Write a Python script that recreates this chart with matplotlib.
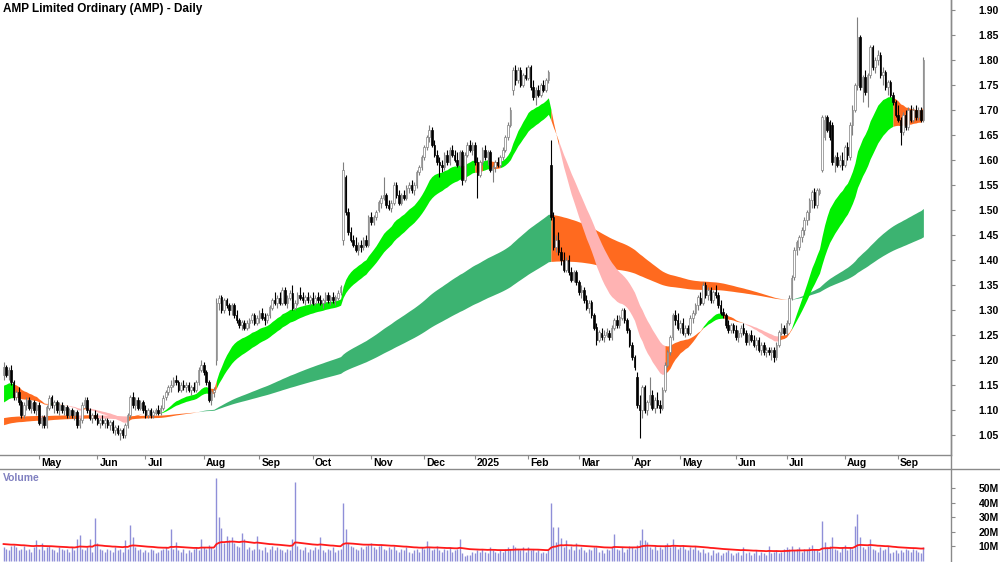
import numpy as np
import pandas as pd
import matplotlib
matplotlib.use('Agg')
import matplotlib.pyplot as plt
from matplotlib.lines import Line2D
import matplotlib.transforms as mtransforms

plt.rcParams['font.family'] = ['Liberation Sans', 'DejaVu Sans']

title = "AMP Limited Ordinary (AMP) - Daily"
start_date = '2024-04-10'
end_date = '2025-09-15'
holidays = ['2024-04-25', '2024-06-10', '2024-12-25', '2024-12-26', '2025-01-01',
            '2025-01-27', '2025-04-18', '2025-04-21', '2025-04-25', '2025-06-09']

# prices in cents, one entry per trading day
opens = [
    117.0,118.5,117.0,118.0,115.5,112.5,113.5,111.5,109.0,111.0,112.0,110.5,111.5,110.0,
    111.0,107.5,108.5,107.0,110.5,112.5,111.0,111.5,110.0,111.0,110.0,110.5,109.0,110.0,109.0,109.5,107.0,108.0,111.0,112.0,110.0,108.5,109.0,
    108.5,107.5,108.0,107.5,108.0,107.0,107.5,106.0,106.5,105.5,106.0,105.0,107.0,109.0,112.5,111.0,112.0,110.5,111.5,
    110.0,109.0,110.0,109.0,109.5,110.0,109.5,110.5,112.5,113.5,114.5,115.0,116.0,115.5,114.0,115.0,114.5,115.0,114.0,114.5,114.0,115.5,118.0,
    119.0,117.5,115.5,112.0,113.5,120.0,131.5,132.5,130.0,132.0,131.0,130.0,131.0,129.0,128.0,127.0,127.5,126.5,127.5,128.0,129.0,127.5,
    128.5,129.5,128.5,128.0,129.0,130.5,132.0,131.5,132.5,131.5,134.0,131.5,132.5,133.5,130.5,131.5,133.0,132.5,132.0,132.5,132.0,
    132.5,131.5,132.5,132.0,131.5,132.0,133.0,132.0,132.5,132.0,132.5,133.5,144.0,156.5,149.5,145.5,144.0,143.0,142.0,143.0,142.5,144.0,143.0,
    148.5,147.5,148.5,150.0,151.5,152.5,153.0,151.0,150.5,151.5,155.0,153.0,151.5,153.0,152.5,154.5,155.0,154.0,155.0,157.5,158.5,
    160.5,162.5,164.5,166.0,163.0,161.0,159.5,159.0,158.5,161.0,159.5,162.0,161.0,160.0,159.0,161.5,156.0,161.0,163.0,162.0,
    163.0,159.5,157.0,159.5,162.0,160.5,161.5,158.0,158.5,159.5,159.0,160.5,162.0,164.5,167.0,174.0,178.0,176.0,178.0,175.0,177.0,
    176.5,178.5,174.5,172.5,174.0,173.0,175.0,174.0,176.0,159.0,148.5,142.5,144.0,141.5,140.0,138.0,140.0,137.5,136.0,137.5,
    135.5,133.5,134.0,132.0,130.5,131.5,129.0,126.5,124.0,125.5,124.5,125.0,125.5,124.5,126.5,128.0,127.0,128.5,130.0,128.0,126.0,
    123.0,120.5,116.5,111.0,110.0,114.5,110.0,111.5,113.0,110.5,112.0,111.0,110.5,114.0,119.0,121.5,124.5,129.0,128.0,
    126.5,127.5,125.5,126.5,125.5,128.5,129.5,131.0,132.5,131.5,135.0,133.0,134.0,132.0,133.5,133.0,131.0,129.5,129.0,127.0,126.0,127.0,
    126.0,124.5,125.5,126.5,125.5,123.5,125.0,124.0,123.0,124.0,122.0,123.0,121.5,122.0,121.5,122.0,120.5,123.0,125.5,126.5,
    125.5,127.5,132.5,136.5,142.0,142.5,144.5,146.0,148.0,149.5,152.0,153.5,151.0,153.5,158.0,164.5,168.5,167.5,167.0,159.5,160.5,159.0,160.0,
    159.0,162.5,160.5,167.0,170.0,175.0,184.5,174.5,176.5,173.5,177.0,182.5,178.5,180.0,181.0,177.0,177.5,174.5,175.5,173.0,171.5,
    169.0,168.0,165.5,169.0,166.5,170.0,168.0,170.0,168.5,170.0,168.0,
]
highs = [
    119.5,119.0,118.5,119.0,116.0,114.0,114.5,112.0,111.5,112.5,112.5,112.0,112.0,111.5,
    111.5,109.0,109.0,111.0,113.0,113.0,112.0,112.0,111.5,111.5,111.0,111.0,110.5,110.5,110.0,110.0,108.5,111.5,112.5,112.5,110.5,109.5,110.0,
    109.5,108.5,109.0,108.5,108.5,108.0,108.0,107.0,107.0,106.5,106.5,107.5,109.5,113.0,113.5,112.5,112.5,112.0,112.0,
    111.0,110.5,110.5,110.0,110.5,111.0,111.0,113.0,114.0,115.0,116.0,116.5,117.0,116.0,115.5,116.0,115.5,115.5,115.0,115.5,116.0,118.5,120.0,
    119.5,118.0,116.0,114.0,114.5,132.5,133.0,133.0,132.5,132.5,131.5,131.5,131.5,130.0,128.5,128.0,128.0,128.0,128.5,129.5,129.5,129.0,
    130.0,130.5,129.5,129.5,131.0,132.5,133.5,133.0,133.5,134.5,134.5,133.0,134.0,135.0,132.0,133.5,134.5,133.5,133.0,133.5,133.0,
    133.5,133.0,133.5,133.0,132.5,133.5,133.5,133.0,133.5,133.0,134.0,135.0,159.5,157.0,150.5,146.5,145.0,144.5,143.5,144.0,144.5,145.0,149.0,
    149.5,149.0,150.0,152.0,153.0,156.5,153.5,152.0,152.0,155.5,155.5,154.0,153.5,154.0,155.0,155.5,156.0,155.5,158.0,159.0,161.0,
    163.0,165.0,167.0,166.5,164.0,162.0,160.5,160.0,161.5,162.0,162.5,163.0,162.0,161.5,162.0,162.0,161.5,163.5,164.0,163.5,
    163.5,160.5,160.0,162.5,163.0,162.0,162.0,159.0,160.0,160.5,161.0,162.5,165.0,167.5,170.5,178.5,179.0,178.5,178.5,177.5,178.5,
    179.0,179.0,176.0,174.5,175.0,175.5,176.0,176.5,178.0,164.0,149.5,145.0,145.5,142.5,141.5,140.5,141.0,138.5,138.0,138.0,
    136.0,135.0,134.5,133.0,132.0,132.0,129.5,127.5,126.0,126.5,126.0,126.5,126.0,127.0,128.5,129.0,129.0,130.5,130.5,128.5,126.5,
    123.5,121.0,117.5,113.0,115.0,115.0,112.0,116.5,114.0,112.5,113.5,112.0,114.5,119.5,122.0,125.0,129.5,130.0,129.5,
    128.0,128.5,127.0,127.0,129.0,130.0,131.5,133.0,133.5,135.5,135.5,134.5,134.5,134.0,135.0,133.5,132.0,130.5,129.5,128.0,127.5,127.5,
    127.0,126.0,127.0,127.5,126.0,125.5,126.0,125.0,124.5,124.5,123.5,123.5,122.5,122.5,122.5,122.5,123.5,126.0,127.5,127.0,
    128.0,133.0,137.0,142.5,144.0,145.0,146.5,148.5,150.0,152.5,154.0,154.5,154.5,154.5,169.0,169.0,169.0,168.0,167.5,161.0,161.5,161.0,161.5,
    163.0,163.5,167.5,171.0,175.5,188.5,185.0,177.0,178.0,177.5,183.0,183.0,180.5,182.0,181.5,178.5,178.0,176.0,176.0,173.5,172.0,
    171.0,168.5,169.5,170.0,170.5,171.0,170.5,171.0,170.5,170.5,180.5,
]
lows = [
    116.0,116.5,116.0,115.0,112.0,112.0,111.0,108.5,108.5,110.0,110.0,109.5,109.5,109.0,
    107.0,106.5,106.5,106.5,110.0,110.5,109.5,109.5,109.0,109.5,109.0,108.5,108.5,108.5,108.0,106.5,106.5,107.5,110.5,109.5,108.0,107.5,108.0,
    107.0,106.5,107.0,106.5,106.5,106.0,105.5,105.0,105.0,104.0,104.5,104.5,106.5,108.5,110.5,110.0,110.0,110.0,109.5,
    108.5,108.5,108.5,108.5,109.0,109.0,109.0,110.0,112.0,113.0,113.5,114.5,115.0,113.5,113.5,114.0,113.5,113.5,113.0,113.5,113.5,115.0,117.5,
    117.0,115.0,111.5,111.0,112.5,119.0,130.0,129.5,129.5,130.5,129.0,129.0,128.5,127.5,126.5,126.0,126.0,126.0,126.5,127.5,127.0,127.0,
    127.5,128.0,127.0,127.5,128.5,130.0,131.0,130.5,131.0,131.0,131.0,130.5,132.0,130.0,130.0,131.0,132.0,131.5,131.0,131.5,131.0,
    131.0,131.0,131.5,131.0,130.5,131.5,131.5,131.0,131.5,131.0,132.0,133.0,143.0,149.0,145.0,143.5,142.5,141.5,141.0,141.5,142.0,142.5,142.5,
    147.0,147.0,148.0,149.5,150.5,152.0,150.5,150.0,149.5,151.0,152.5,151.0,151.0,152.0,152.0,153.5,153.5,153.0,154.5,157.0,158.0,
    160.0,162.0,163.5,162.5,160.5,159.0,156.5,157.5,158.0,159.0,159.0,160.5,159.5,158.5,158.5,155.0,155.5,160.5,161.5,161.0,
    159.0,152.5,156.5,159.0,160.0,159.0,157.5,155.5,157.5,158.5,158.5,160.0,161.5,164.0,166.5,173.0,175.0,175.5,174.5,174.5,176.0,
    176.0,174.0,172.0,171.0,172.5,172.5,173.5,173.5,175.5,148.0,142.0,141.5,141.0,139.0,137.5,137.5,137.0,135.5,135.5,135.0,
    133.0,132.5,131.5,130.0,129.5,128.5,126.0,123.0,123.5,124.0,123.5,124.5,124.0,124.0,126.0,126.5,126.5,128.0,127.5,125.5,122.5,
    120.0,118.0,110.5,104.5,108.5,109.5,109.0,111.0,110.0,109.5,110.5,109.5,110.0,113.5,118.5,121.0,124.0,127.0,126.0,
    125.5,125.0,124.5,125.0,125.0,127.5,129.0,130.0,131.0,131.0,132.5,132.0,131.5,131.5,132.5,130.5,129.0,128.5,126.5,125.5,125.5,125.5,
    124.0,123.5,124.5,125.0,123.0,123.0,123.5,122.5,122.0,121.5,121.0,121.0,120.5,121.0,120.0,119.5,120.0,122.5,125.0,125.0,
    125.0,127.0,132.0,136.0,141.0,142.0,143.5,145.0,147.0,148.0,150.5,150.5,150.5,153.0,157.5,164.0,165.5,164.0,159.0,157.5,158.5,158.5,158.0,
    158.5,160.0,160.0,165.0,169.5,174.0,174.0,171.5,173.0,170.5,176.5,178.0,177.5,179.0,176.5,175.0,174.0,173.0,172.5,171.0,168.5,
    167.5,163.0,165.0,166.0,166.0,167.5,167.5,168.0,168.0,167.5,167.5,
]
closes = [
    118.5,117.0,118.0,115.5,112.5,113.5,111.5,109.0,111.0,112.0,110.5,111.5,110.0,111.0,
    107.5,108.5,107.0,110.5,112.5,111.0,111.5,110.0,111.0,110.0,110.5,109.0,110.0,109.0,109.5,107.0,108.0,111.0,112.0,110.0,108.5,109.0,108.5,
    107.5,108.0,107.5,108.0,107.0,107.5,106.0,106.5,105.5,106.0,105.0,107.0,109.0,112.5,111.0,112.0,110.5,111.5,110.0,
    109.0,110.0,109.0,109.5,110.0,109.5,110.5,112.5,113.5,114.5,115.0,116.0,115.5,114.0,115.0,114.5,115.0,114.0,114.5,114.0,115.5,118.0,119.0,
    117.5,115.5,112.0,113.5,114.0,131.5,132.5,130.0,132.0,131.0,130.0,131.0,129.0,128.0,127.0,127.5,126.5,127.5,128.0,129.0,127.5,128.5,
    129.5,128.5,128.0,129.0,130.5,132.0,131.5,132.5,131.5,134.0,131.5,132.5,133.5,130.5,131.5,133.0,132.5,132.0,132.5,132.0,132.5,
    131.5,132.5,132.0,131.5,132.0,133.0,132.0,132.5,132.0,132.5,133.5,134.5,158.0,149.5,145.5,144.0,143.0,142.0,143.0,142.5,144.0,143.0,148.5,
    147.5,148.5,149.5,151.5,152.5,153.0,151.0,150.5,151.5,155.0,153.0,151.5,153.0,152.5,154.5,155.0,154.0,155.0,157.5,158.5,160.5,
    162.5,164.5,166.0,163.0,161.0,159.5,159.0,158.5,161.0,159.5,162.0,161.0,160.0,159.0,161.5,156.0,161.0,163.0,162.0,163.0,
    159.5,157.0,159.5,162.0,160.5,161.5,158.0,158.5,159.5,159.0,160.5,162.0,164.5,167.0,170.0,178.0,176.0,178.0,175.0,177.0,176.5,
    178.5,174.5,172.5,174.0,173.0,175.0,174.0,176.0,177.5,148.5,142.5,144.0,141.5,140.0,138.0,140.0,137.5,136.0,137.5,135.5,
    133.5,134.0,132.0,130.5,131.5,129.0,126.5,124.0,125.5,124.5,125.0,125.5,124.5,126.5,128.0,127.0,128.5,130.0,128.0,126.0,123.0,
    120.5,118.5,111.0,110.0,114.5,110.0,111.5,113.0,110.5,112.0,111.0,110.5,114.0,119.0,121.5,124.5,129.0,128.0,126.5,
    127.5,125.5,126.5,125.5,128.5,129.5,131.0,132.5,131.5,135.0,133.0,134.0,132.0,133.5,133.0,131.0,129.5,129.0,127.0,126.0,127.0,126.0,
    124.5,125.5,126.5,125.5,123.5,125.0,124.0,123.0,124.0,122.0,123.0,121.5,122.0,121.5,122.0,120.5,123.0,125.5,126.5,125.5,
    127.5,132.5,136.5,142.0,143.5,144.5,146.0,148.0,149.5,152.0,153.5,151.0,154.0,154.0,168.5,168.0,166.0,164.5,159.5,160.5,159.0,160.0,159.0,
    162.5,161.0,167.0,170.0,175.0,184.5,174.5,176.5,173.5,177.0,182.5,178.5,180.0,181.0,177.0,177.5,174.5,175.5,173.0,171.5,169.0,
    168.0,165.5,169.0,166.5,170.0,168.0,170.0,168.5,170.0,168.0,180.0,
]
# volume in millions
volume_m = [
    9,8,7,10,11,9,7,8,10,7,8,6,9,14,
    8,12,7,9,10,8,7,6,9,8,7,8,6,9,7,15,17.5,8,7,9,15,6,29,
    12,8,7,6,8,7,6,9,7,8,6,14,8,24.5,16,9,7,8,6,
    7,6,8,7,5,6,7,8,9,7,22,8,13,7,6,8,5,7,6,8,9,7,15,
    9,8,11,9,8,57,30,22.5,12,17,14,16,12,10,9,19,15,8,9,7,8,17,
    8,7,9,6,8,10,7,9,8,7,6,8,7,15,54,10,8,7,9,6,8,
    7,9,8,16,7,6,8,7,9,6,7,8,40,22,12,10,9,8,7,9,8,10,11,
    12,9,8,10,11,8,7,9,8,10,7,6,8,7,9,6,5,7,8,6,9,
    8,13.5,9,7,8,10,7,6,8,7,9,6,7,8,15,5,3,4,3.5,6,
    5,7,6,8,6,5,9,7,6,5,7,6,8,9,8,11,9,8,7,9,6,
    9,7,8,6,7,5,6,5,7,40,23,13,23,15.5,9,14,8,10,7,12,
    8,9,7,6,8,7,9,9,6,7,5,8,7,9,18,8,7,9,6,8,10,
    9,8,11,14,22,14,13,9,8,10,7,9,8,11,12,9,15,10,8,
    9,11,8,7,9,8,10,7,6,8,5,6,4,7,5,6,4,5,6,7,5,4,
    5,6,4,9,5,6,4,5,7,4,6,5,4,10,5,6,7,5,6,8,
    9,8,10,7,8,9,6,8,7,9,11,8,7,6,27,13,9,10,16,8,7,6,9,
    11,7,9,8,24,32,16,9,8,10,15,8,7,6,9,7,8,10,5,6,7,
    5,7,6,8,7,6,8,7,6,5,9,
]

short_periods = [20, 34]
short_seeds = [114.6, 111.2]
long_periods = [144, 233]
long_seeds = [106.9, 108.4]
vol_ma_period = 40
vol_ma_seed = 11.5

price_ticks = [1.05, 1.10, 1.15, 1.20, 1.25, 1.30, 1.35, 1.40, 1.45, 1.50,
               1.55, 1.60, 1.65, 1.70, 1.75, 1.80, 1.85, 1.90]
vol_ticks = [10, 20, 30, 40, 50]

# ---------------------------------------------------------------- data prep
dates = pd.bdate_range(start_date, end_date)
dates = dates[~dates.isin(pd.to_datetime(holidays))]
n = len(dates)
O = np.array(opens) / 100.0
H = np.array(highs) / 100.0
L = np.array(lows) / 100.0
C = np.array(closes) / 100.0
V = np.array(volume_m, dtype=float)
assert len(O) == len(H) == len(L) == len(C) == len(V) == n, (len(O), len(H), len(L), len(C), len(V), n)
x = np.arange(n)


def ema(values, period, seed):
    a = 2.0 / (period + 1.0)
    out = np.empty(len(values))
    prev = seed
    for i, v in enumerate(values):
        prev = prev + a * (v - prev)
        out[i] = prev
    return out


def band(periods, seeds):
    fast = ema(C, periods[0], seeds[0] / 100.0)
    slow = ema(C, periods[1], seeds[1] / 100.0)
    prev_fast = np.concatenate([[seeds[0] / 100.0], fast[:-1]])
    rising = fast > prev_fast
    bull = fast > slow
    state = np.where(bull & rising, 'up', np.where(~bull & ~rising, 'down', 'mixed'))
    return np.minimum(fast, slow), np.maximum(fast, slow), state


s_lo, s_hi, s_state = band(short_periods, short_seeds)
l_lo, l_hi, l_state = band(long_periods, long_seeds)
vol_ma = ema(V, vol_ma_period, vol_ma_seed)

# ---------------------------------------------------------------- figure
GRAY = '#8a8a8a'
ORANGE = '#ff6a1f'
PINK = '#ffb3b3'
short_colors = {'up': '#00f000', 'mixed': ORANGE, 'down': PINK}
long_colors = {'up': '#3cb371', 'mixed': ORANGE, 'down': PINK}

fig = plt.figure(figsize=(10, 5.62), dpi=100)
fig.patch.set_facecolor('white')
ax = fig.add_axes([0, 1 - 455 / 562, 0.951, 455 / 562])
axv = fig.add_axes([0, 0, 0.951, 93 / 562])

xlim = (-1.4, 373.9)


def draw_band(lo, hi, state, colors, z):
    i0 = 0
    for i in range(1, n + 1):
        if i == n or state[i] != state[i0]:
            j = min(i, n - 1)
            xs = x[i0:j + 1]
            ax.fill_between(xs, lo[i0:j + 1], hi[i0:j + 1], color=colors[state[i0]],
                            linewidth=0, zorder=z)
            i0 = i


draw_band(l_lo, l_hi, l_state, long_colors, 1)
draw_band(s_lo, s_hi, s_state, short_colors, 2)

up = C >= O
wick_col = np.where(up, '#7f7f7f', '#000000')
ax.vlines(x, L, H, colors=wick_col, linewidth=0.8, zorder=3)
body_h = np.maximum(np.abs(C - O), 0.0015)
ax.bar(x, body_h, bottom=np.minimum(O, C), width=0.62,
       color=np.where(up, '#ffffff', '#000000'),
       edgecolor=np.where(up, '#7f7f7f', '#000000'), linewidth=0.5, zorder=4)

ax.set_xlim(*xlim)
ax.set_ylim(1.01, 1.92)
ax.yaxis.tick_right()
ax.set_yticks(price_ticks)
ax.set_yticklabels([f'{t:.2f}' for t in price_ticks], fontweight='bold', fontsize=7.5)
ax.tick_params(axis='y', direction='out', length=3, color=GRAY, pad=17)
for sp in ['top', 'left']:
    ax.spines[sp].set_visible(False)
for sp in ['right', 'bottom']:
    ax.spines[sp].set_color(GRAY)
    ax.spines[sp].set_linewidth(1.0)

# month ticks
month_starts = pd.date_range('2024-05-01', '2025-09-01', freq='MS')
tick_idx = [int(np.searchsorted(dates.values, m.to_datetime64())) for m in month_starts]
tick_lbl = [m.strftime('%Y') if m.month == 1 else m.strftime('%b') for m in month_starts]
ax.set_xticks(tick_idx)
ax.tick_params(axis='x', direction='out', length=3, color=GRAY, labelbottom=False)
trans = mtransforms.blended_transform_factory(ax.transData, ax.transAxes) + \
    mtransforms.ScaledTranslation(2 / 100, -8 / 100, fig.dpi_scale_trans)
for ti, tl in zip(tick_idx, tick_lbl):
    ax.text(ti, 0, tl, transform=trans, ha='left', va='center', fontsize=7.5,
            fontweight='bold', clip_on=False)

# volume
axv.vlines(x, 0, V, colors='#8f8fd8', linewidth=1.0, zorder=2)
axv.plot(x, vol_ma, color='#ff1a1a', linewidth=1.3, zorder=3)
axv.set_xlim(*xlim)
axv.set_ylim(-1.0, 63.1)
axv.set_xticks([])
axv.yaxis.tick_right()
axv.set_yticks(vol_ticks)
axv.set_yticklabels([f'{t}M' for t in vol_ticks], fontweight='bold', fontsize=7.5)
axv.tick_params(axis='y', direction='out', length=3, color=GRAY, pad=17)
for sp in axv.spines.values():
    sp.set_visible(False)

fig.add_artist(Line2D([0.951, 0.951], [0, 1], transform=fig.transFigure, color=GRAY, linewidth=1.0))
fig.add_artist(Line2D([0, 1], [93 / 562, 93 / 562], transform=fig.transFigure, color=GRAY, linewidth=1.0))

fig.text(3 / 1000, 1 - 9 / 562, title, fontsize=8.5, fontweight='bold', va='center', ha='left')
fig.text(3 / 1000, 1 - 478 / 562, 'Volume', fontsize=7.5, fontweight='bold', color='#8080c0',
         va='center', ha='left')

fig.savefig('out.png', dpi=100)
